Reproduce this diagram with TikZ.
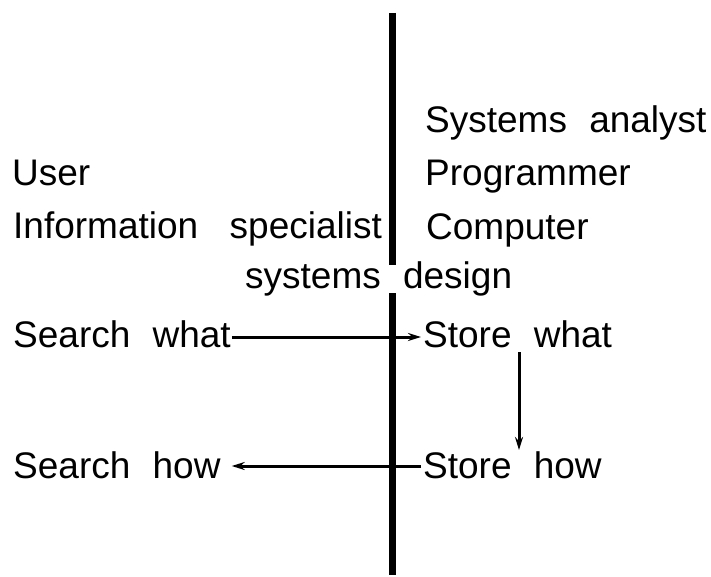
\documentclass[tikz,border=0pt]{standalone}
\usepackage{fontspec}
\setmainfont{Liberation Sans}
\usetikzlibrary{arrows.meta}
\newcommand\bigtxtfont{\fontsize{37}{40}\selectfont\spaceskip=0.6em plus 0.1em\relax}
\begin{document}
\begin{tikzpicture}[x=1pt,y=-1pt,
  txt/.style={font=\bigtxtfont, inner sep=0pt, anchor=base west},
  divider/.style={line width=7pt},
  flow/.style={line width=3pt,-{Stealth[length=13pt,width=8pt]}}]
\useasboundingbox (0,0) rectangle (711,577);
% texts
\node[txt] (sa)   at (425,133) {Systems analyst};
\node[txt] (user) at (12,186)  {User};
\node[txt] (prog) at (425,186) {Programmer};
\node[txt] (info) at (13,238)  {Information\hspace{0.85em}specialist};
\node[txt] (comp) at (426,239) {Computer};
\node[txt] (sd)   at (245,288) {systems design};
\node[txt] (sw)   at (13,347)  {Search what};
\node[txt] (stw)  at (423,347) {Store what};
\node[txt] (sh)   at (13,478)  {Search how};
\node[txt] (sth)  at (423,478) {Store how};
% divider
\coordinate (d1) at (392,13);
\coordinate (d2) at (392,265);
\coordinate (d3) at (392,293);
\coordinate (d4) at (392,575);
\draw[divider] (d1) -- (d2);
\draw[divider] (d3) -- (d4);
% arrows
\draw[flow] ([xshift=1pt,yshift=10pt]sw.base east) -- ([xshift=-2pt,yshift=10pt]stw.base west);
\draw[flow] ([xshift=-2pt,yshift=12pt]sth.base west) -- ([xshift=11pt,yshift=12pt]sh.base east);
\coordinate (va) at (519,352);
\coordinate (vb) at (519,450);
\draw[flow] (va) -- (vb);
\end{tikzpicture}
\end{document}
